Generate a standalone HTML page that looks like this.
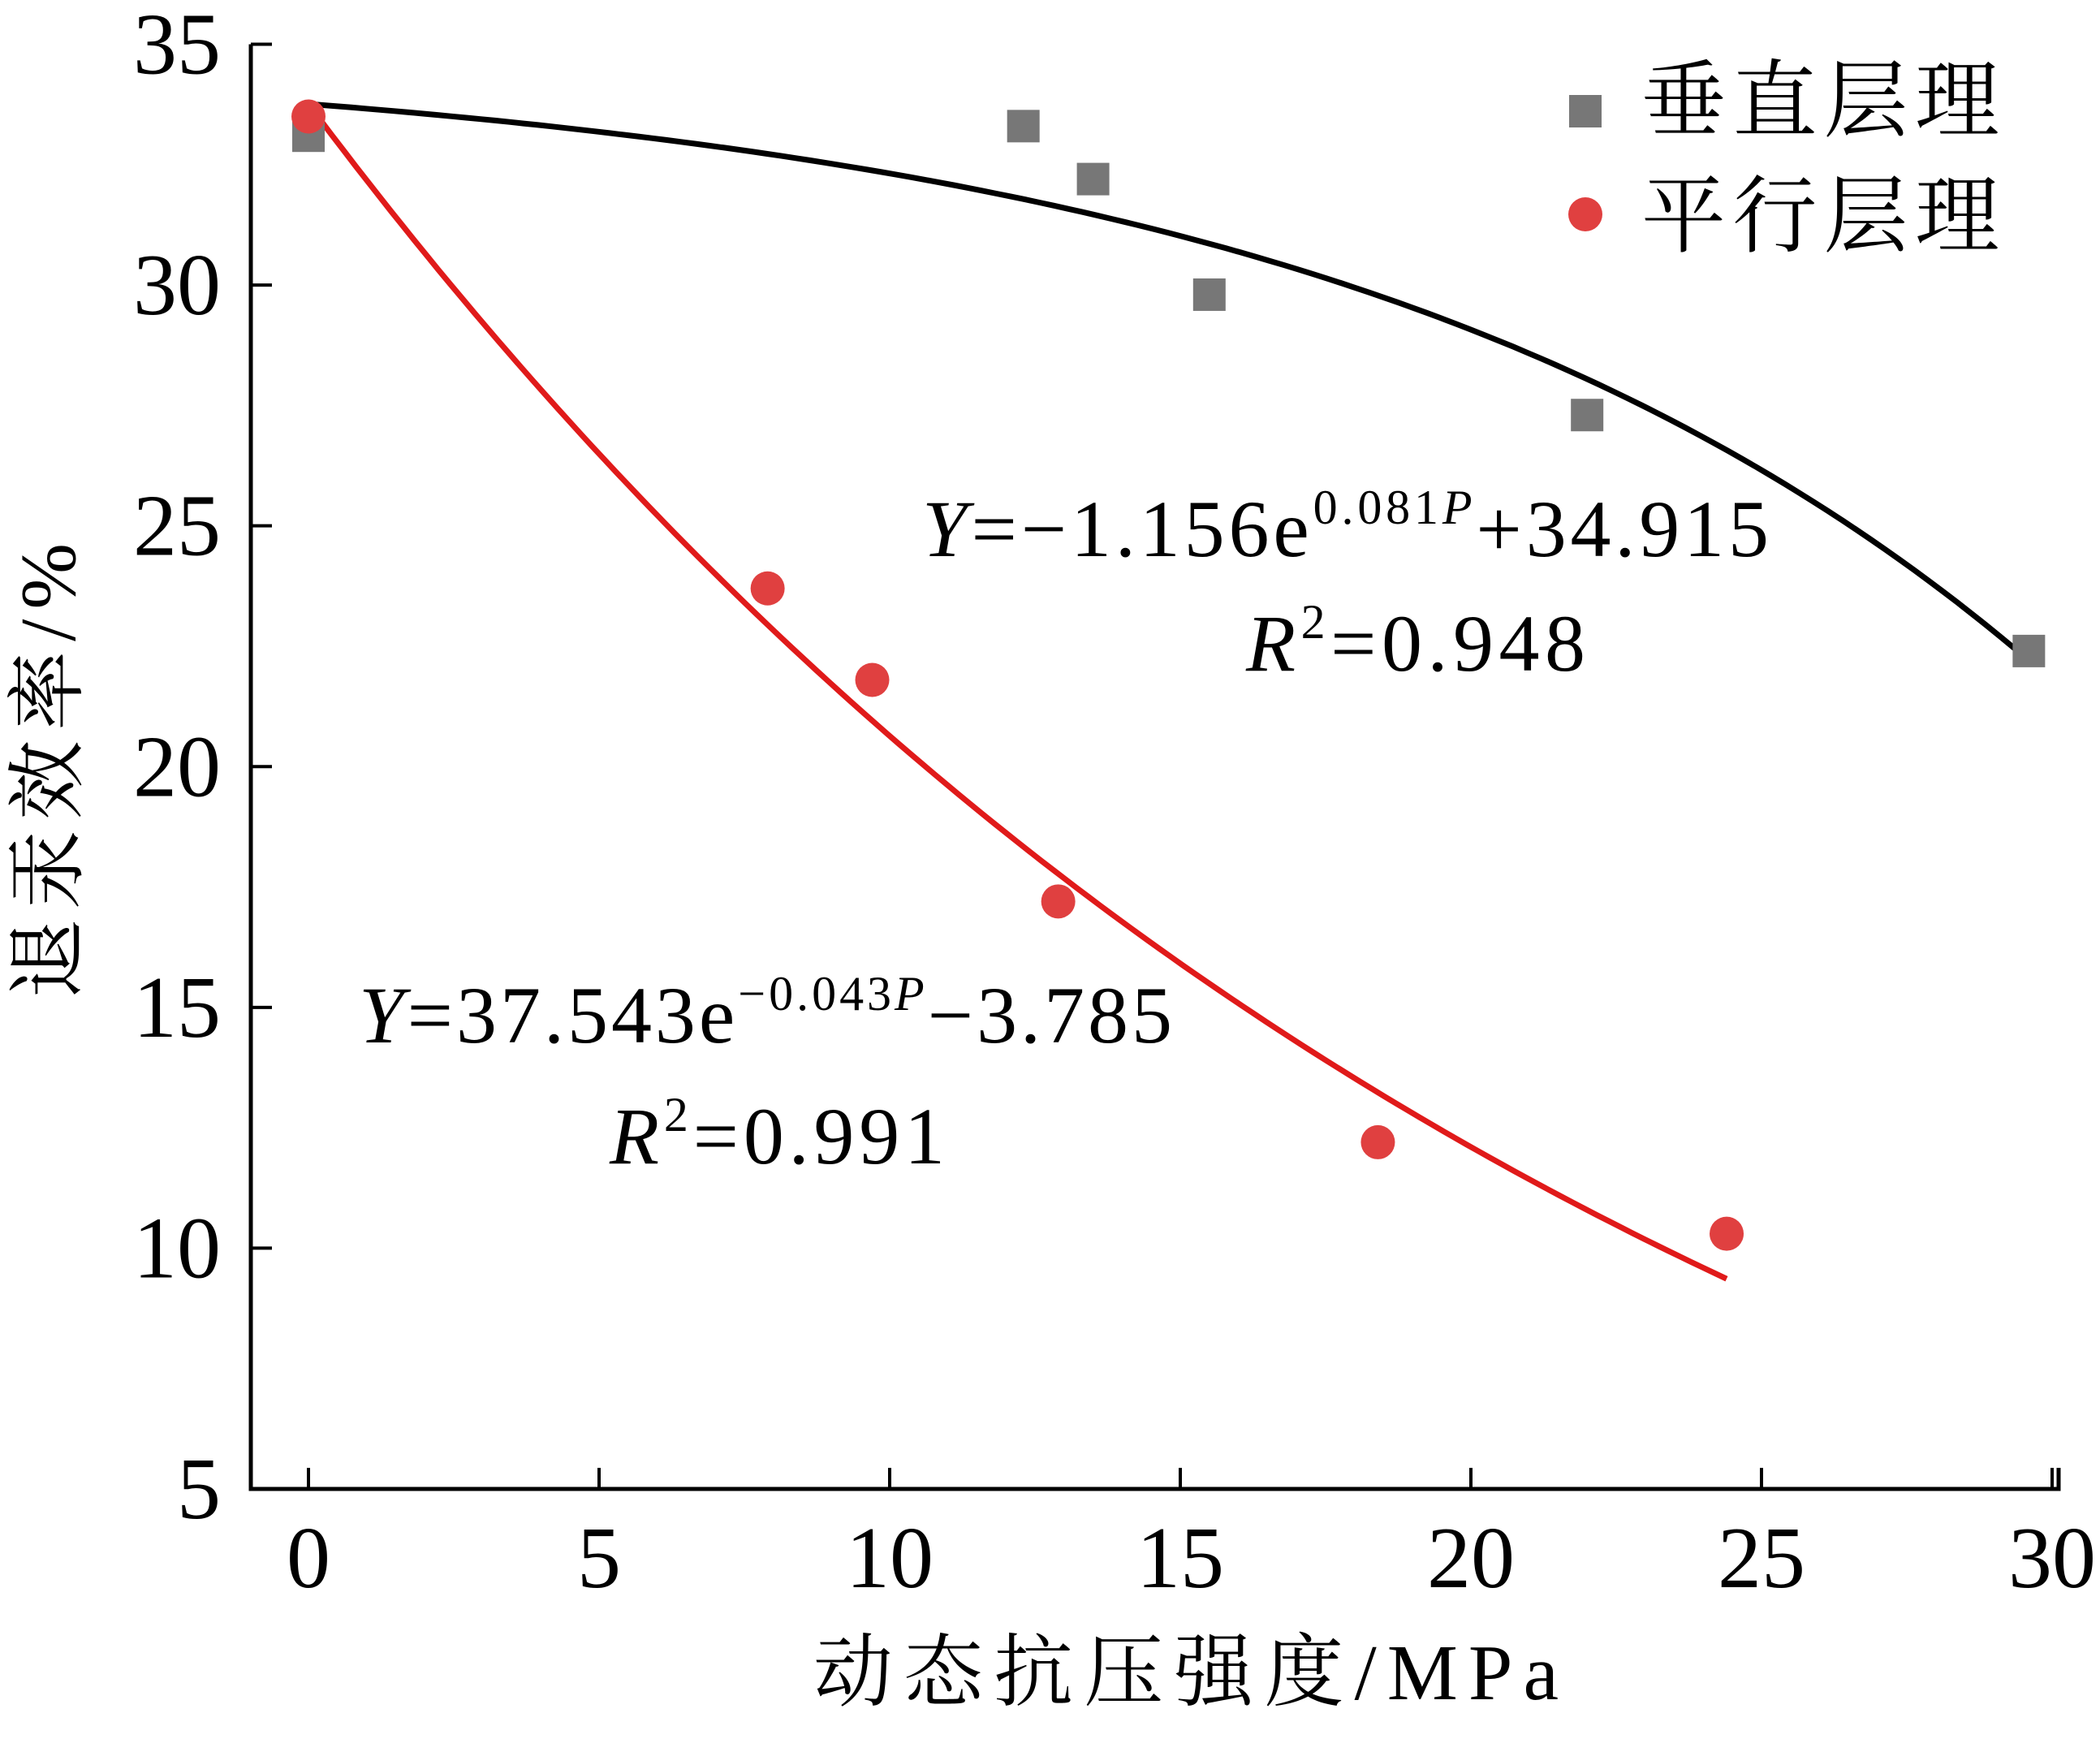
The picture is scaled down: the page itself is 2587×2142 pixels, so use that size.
<!DOCTYPE html>
<html><head><meta charset="utf-8"><style>
html,body{margin:0;padding:0;background:#fff;}
svg text{font-family:"Liberation Serif","Noto Serif CJK SC",serif;fill:#000;}
</style></head><body>
<svg id="chart" width="2587" height="2137" viewBox="0 0 2587 2137" xmlns="http://www.w3.org/2000/svg">
<g id="axes"></g>
<g id="curves"></g>
<g id="points"></g>
<g>
  <rect x="1933" y="117" width="40" height="40" fill="#777"/>
  <text x="2022" y="160" font-size="104" textLength="441" lengthAdjust="spacing">垂直层理</text>
  <circle cx="1953" cy="264" r="21" fill="#e04040"/>
  <text x="2022" y="302" font-size="104" textLength="441" lengthAdjust="spacing">平行层理</text>
</g>
<g>
  <text x="1136" y="685" font-size="100" textLength="1043" lengthAdjust="spacing"><tspan font-style="italic">Y</tspan>=−1.156e<tspan font-size="60" dy="-40">0.081<tspan font-style="italic">P</tspan></tspan><tspan dy="40">+34.915</tspan></text>
  <text x="1535" y="826" font-size="100" textLength="418" lengthAdjust="spacing"><tspan font-style="italic">R</tspan><tspan font-size="60" dy="-40">2</tspan><tspan dy="40">=0.948</tspan></text>
  <text x="442" y="1284" font-size="100" textLength="1002" lengthAdjust="spacing"><tspan font-style="italic">Y</tspan>=37.543e<tspan font-size="60" dy="-40">−0.043<tspan font-style="italic">P</tspan></tspan><tspan dy="40">−3.785</tspan></text>
  <text x="751" y="1433" font-size="100" textLength="413" lengthAdjust="spacing"><tspan font-style="italic">R</tspan><tspan font-size="60" dy="-40">2</tspan><tspan dy="40">=0.991</tspan></text>
</g>
<text x="1002" y="2093" font-size="98" textLength="918" lengthAdjust="spacing">动态抗压强度/MPa</text>
<text transform="translate(92,1230) rotate(-90)" font-size="98" textLength="561" lengthAdjust="spacing">退汞效率/%</text>
</svg>
<script>
const xTicks=[0,5,10,15,20,25,30];
const yTicks=[5,10,15,20,25,30,35];
const vertP=[0,12.3,13.5,15.5,22,29.6];
const vertY=[33.1,33.3,32.2,29.8,27.3,22.4];
const parP=[0,7.9,9.7,12.9,18.4,24.4];
const parY=[33.5,23.7,21.8,17.2,12.2,10.3];
const vertFit=[-1.156,0.081,34.915];
const parFit=[37.543,-0.043,-3.785];
const vertRange=[0,29.6];
const parRange=[0,24.4];

const NS='http://www.w3.org/2000/svg';
const X=v=>380+(2528-380)*v/30;
const Y=v=>1834-(1834-54.5)*(v-5)/30;
function mk(tag,parent,attrs){const e=document.createElementNS(NS,tag);for(const k in attrs)e.setAttribute(k,attrs[k]);parent.appendChild(e);return e;}
const axes=document.getElementById('axes');
let a=mk('path',axes,{d:`M${X(0)-71},${Y(35)} V1834 H${X(30)+8} V${1834-26}`,fill:'none',stroke:'#000','stroke-width':5});


xTicks.forEach(t=>{
  const l=mk('line',axes,{x1:X(t),x2:X(t),y1:1834,y2:1834-26,stroke:'#000','stroke-width':4});
  
  
  const tx=mk('text',axes,{x:X(t),y:1955,'font-size':108,'text-anchor':'middle'});
  tx.textContent=t;
  
  
});
yTicks.forEach(t=>{
  const l=mk('line',axes,{x1:X(0)-71,x2:X(0)-71+26,y1:Y(t),y2:Y(t),stroke:'#000','stroke-width':4});
  
  
  const tx=mk('text',axes,{x:272,y:Y(t)+36,'font-size':108,'text-anchor':'end'});
  tx.textContent=t;
  
  
});
function curve(fit,range,color,name){
  let d='';
  for(let i=0;i<=120;i++){const p=range[0]+(range[1]-range[0])*i/120;const y=fit[0]*Math.exp(fit[1]*p)+fit[2];d+=(i?'L':'M')+X(p).toFixed(1)+','+Y(y).toFixed(1);}
  const e=mk('path',document.getElementById('curves'),{d:d,fill:'none',stroke:color,'stroke-width':7});
  
  
}
curve(vertFit,vertRange,'#000','fit-curve-vertical');
curve(parFit,parRange,'#e01a1a','fit-curve-parallel');
const pts=document.getElementById('points');
vertP.forEach((p,i)=>{
  const e=mk('rect',pts,{x:X(p)-20,y:Y(vertY[i])-20,width:40,height:40,fill:'#777'});
  
  
});
parP.forEach((p,i)=>{
  const e=mk('circle',pts,{cx:X(p),cy:Y(parY[i]),r:21,fill:'#e04040'});
  
  
});
</script>
</body></html>
